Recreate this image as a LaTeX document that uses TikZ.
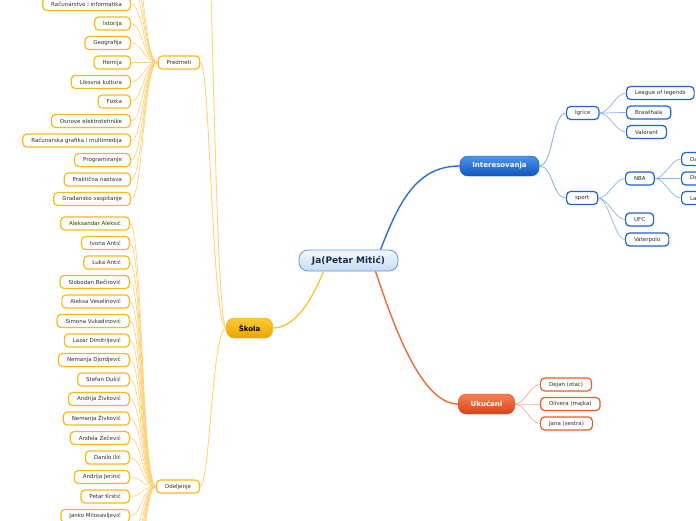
\documentclass[tikz,border=0pt]{standalone}
\usepackage{fontspec}
\setmainfont{DejaVu Sans}
\definecolor{yel}{HTML}{FBB917}
\definecolor{yelline}{HTML}{FFD27A}
\definecolor{yelmain}{HTML}{FFC43A}
\definecolor{blu}{HTML}{1E62D6}
\definecolor{bluline}{HTML}{8DB4EE}
\definecolor{blumain}{HTML}{2A6ED8}
\definecolor{orng}{HTML}{EC5A2C}
\definecolor{orngline}{HTML}{F8AC90}
\definecolor{orngmain}{HTML}{F06A3A}
\definecolor{txt}{HTML}{2E2E2E}
\definecolor{navy}{HTML}{1A2B4C}
\definecolor{rootT}{HTML}{F4F8FC}
\definecolor{rootB}{HTML}{C6DBF0}
\definecolor{rootD}{HTML}{5B9BD5}
\definecolor{intT}{HTML}{4D94EA}
\definecolor{intB}{HTML}{1455BE}
\definecolor{ukuT}{HTML}{F58052}
\definecolor{ukuB}{HTML}{D9441A}
\definecolor{skoT}{HTML}{FFCB35}
\definecolor{skoB}{HTML}{EBA300}
\tikzset{
  small/.style={draw, rounded corners=4pt, fill=white, line width=1.2pt,
    minimum height=13pt, inner xsep=8.5pt, inner ysep=0pt,
    font=\fontsize{5.5}{6}\selectfont, text=txt},
  ys/.style={small, draw=yel},
  bs/.style={small, draw=blu},
  rs/.style={small, draw=orng},
  mainst/.style={rounded corners=8pt, minimum height=20pt, inner xsep=12.5pt,
    inner ysep=0pt, font=\fontsize{7}{8}\selectfont\bfseries},
  rootst/.style={rounded corners=9pt, minimum height=21pt, inner xsep=13pt,
    inner ysep=0pt, top color=rootT, bottom color=rootB, draw=rootD,
    line width=0.8pt, font=\fontsize{9}{10}\selectfont\bfseries, text=navy},
  yl/.style={draw=yelline, line width=0.7pt},
  yl2/.style={draw=yelline, line width=0.9pt},
  bl/.style={draw=bluline, line width=0.7pt},
  bl2/.style={draw=bluline, line width=0.9pt},
  rl/.style={draw=orngline, line width=0.7pt},
  ymain/.style={draw=yelmain, line width=1.4pt},
  bmain/.style={draw=blumain, line width=1.4pt},
  rmain/.style={draw=orngmain, line width=1.4pt},
}
\begin{document}
\begin{tikzpicture}[x=1pt,y=-1pt]
\useasboundingbox (0,0) rectangle (696,520);
\clip (0,0) rectangle (696,520);
\fill[white] (0,0) rectangle (696,520);

% main nodes
\node[rootst] (root) at (348.5,260.5) {Ja(Petar Mitić)};
\node[mainst, top color=intT, bottom color=intB, draw=intB, text=white] (int) at (499.5,166) {Interesovanja};
\node[mainst, top color=ukuT, bottom color=ukuB, draw=ukuB, text=white] (uku) at (486.5,404) {Ukućani};
\node[mainst, top color=skoT, bottom color=skoB, draw=skoB, text=black] (sko) at (249.5,328) {Škola};

% main branches
\draw[bmain] ([xshift=32pt]root.north) .. controls (398,205) and (415,166) .. (int.west);
\draw[rmain] ([xshift=27pt]root.south) .. controls (392,320) and (420,404) .. (uku.west);
\draw[ymain] ([xshift=-25pt]root.south) .. controls (312,300) and (295,328) .. (sko.east);

% Interesovanja
\node[bs, anchor=west] (igr) at (566,113) {Igrice};
\node[bs, anchor=west] (spo) at (566,198) {sport};
\draw[bl2] (int.east) .. controls +(14,0) and +(-14,0) .. (igr.west);
\draw[bl2] (int.east) .. controls +(14,0) and +(-14,0) .. (spo.west);
\node[bs, anchor=west] (lol) at (626,93) {League of legends};
\node[bs, anchor=west] (bra) at (626,112.5) {Brawlhala};
\node[bs, anchor=west] (val) at (626,132) {Valorant};
\foreach \n in {lol,bra,val}
  \draw[bl] (igr.east) .. controls +(10,0) and +(-10,0) .. (\n.west);
\node[bs, anchor=west] (nba) at (625,178.5) {NBA};
\node[bs, anchor=west] (ufc) at (625,219.5) {UFC};
\node[bs, anchor=west] (vat) at (625,239.5) {Vaterpolo};
\foreach \n in {nba,ufc,vat}
  \draw[bl] (spo.east) .. controls +(10,0) and +(-10,0) .. (\n.west);
\node[bs, anchor=west] (nb1) at (681,159) {Dallas Mavericks};
\node[bs, anchor=west] (nb2) at (681,178.5) {Denver Nuggets};
\node[bs, anchor=west] (nb3) at (681,198) {Lakers};
\foreach \n in {nb1,nb2,nb3}
  \draw[bl] (nba.east) .. controls +(10,0) and +(-10,0) .. (\n.west);

% Ukucani
\node[rs, anchor=west] (u1) at (540,384.5) {Dejan (otac)};
\node[rs, anchor=west] (u2) at (540,404) {Olivera (majka)};
\node[rs, anchor=west] (u3) at (540,423.5) {Jana (sestra)};
\foreach \n in {u1,u2,u3}
  \draw[rl] (uku.east) .. controls +(10,0) and +(-10,0) .. (\n.west);

% Skola
\node[ys] (pred) at (179,62.5) {Predmeti};
\node[ys] (ode) at (178,486.5) {Odeljenje};
\coordinate (skoOff) at (200,-220);
\draw[yl2] (sko.west) .. controls (212,328) and (210,62.5) .. (pred.east);
\draw[yl2] (sko.west) .. controls (212,328) and (210,486.5) .. (ode.east);
\draw[yl2] (sko.west) .. controls (214,328) and (211,-220) .. (skoOff);

\foreach \t [count=\i] in {Računarstvo i informatika, Istorija, Geografija, Hemija,
  Likovna kultura, Fizika, Osnove elektrotehnike, Računarska grafika i multimedija,
  Programiranje, Praktična nastava, Građansko vaspitanje} {
  \node[ys, anchor=east] (pc\i) at (131,{4+19.5*(\i-1)}) {\t};
  \draw[yl] (pc\i.east) .. controls +(12,0) and +(-14,0) .. (pred.west);
}
\foreach \k in {1,2,3} {
  \coordinate (po\k) at (131,{4-19.5*\k});
  \draw[yl] (po\k) .. controls +(12,0) and +(-14,0) .. (pred.west);
}

\foreach \t [count=\i] in {Aleksandar Aleksić, Ivona Antić, Luka Antić, Slobodan Bečirović,
  Aleksa Veselinović, Simona Vukadinović, Lazar Dimitrijević, Nemanja Djordjević,
  Stefan Dušić, Andrija Živković, Nemanja Živković, Anđela Zečević, Danilo Ilić,
  Andrija Jerinić, Petar Krstić, Janko Milosavljević} {
  \node[ys, anchor=east] (oc\i) at (130,{223.5+19.5*(\i-1)}) {\t};
  \draw[yl] (oc\i.east) .. controls +(12,0) and +(-14,0) .. (ode.west);
}
\foreach \k in {1,...,6} {
  \coordinate (oo\k) at (130,{516+19.5*\k});
  \draw[yl] (oo\k) .. controls +(12,0) and +(-14,0) .. (ode.west);
}
\end{tikzpicture}
\end{document}
